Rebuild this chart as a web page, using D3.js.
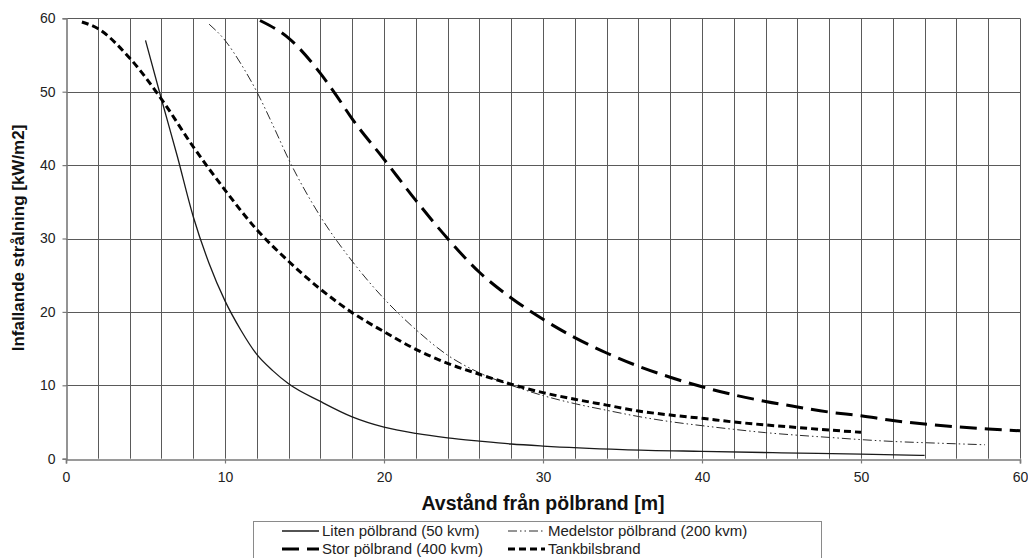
<!DOCTYPE html>
<html><head><meta charset="utf-8">
<script src="https://cdn.jsdelivr.net/npm/d3@7"></script>
<style>
body{margin:0;background:#fff;}
svg{display:block;font-family:"Liberation Sans",Arial,sans-serif;}
</style></head>
<body><svg id="c" width="1028" height="558"></svg>
<script>
// ---- data ----
const litenX = [5,6,7,8,9,10,11,12,13,14,16,18,20,22,24,26,28,30,35,40,45,50,54];
const litenY = [57,49,41.2,33,26.6,21.5,17.5,14.2,12,10.2,7.8,5.7,4.3,3.45,2.85,2.4,2.0,1.72,1.25,1.0,0.8,0.62,0.45];
const medelX = [9,10,11,12,13,14,16,18,20,22,24,26,28,30,32,34,36,38,40,42,44,46,48,50,52,54,56,57.8];
const medelY = [59.2,57,53.8,50,45.5,40.8,33,26.9,21.8,17.6,14.1,11.7,10,8.6,7.5,6.6,5.75,5.05,4.5,4.0,3.55,3.2,2.9,2.6,2.35,2.18,2.03,1.9];
const storX = [12.2,14,16,17,18,20,22,24,26,28,30,32,34,36,38,40,42,44,46,48,50,52,54,56,58,60];
const storY = [59.7,57.3,52.5,49.5,46.3,40.8,35.2,30,25.4,21.9,19,16.5,14.4,12.6,11.1,9.8,8.7,7.8,7.05,6.35,5.85,5.2,4.72,4.35,4.05,3.8];
const tankX = [1,2,4,6,8,10,12,14,16,18,20,22,24,26,28,30,32,34,36,38,40,42,44,46,48,50];
const tankY = [59.5,58.6,54.6,49,42.5,36.6,31.2,26.9,23.1,19.9,17.3,14.9,13.0,11.5,10.15,9.0,8.1,7.3,6.5,5.95,5.5,5.0,4.6,4.25,3.9,3.6];
const xTicks = [0,10,20,30,40,50,60];
const yTicks = [0,10,20,30,40,50,60];
const seriesNames = ["Liten pölbrand (50 kvm)","Medelstor pölbrand (200 kvm)","Stor pölbrand (400 kvm)","Tankbilsbrand"];
const xTitle = "Avstånd från pölbrand [m]";
const yTitle = "Infallande strålning [kW/m2]";

const series = [
  {name:seriesNames[0], xs:litenX, ys:litenY, w:1.3, dash:null, color:"#1a1a1a"},
  {name:seriesNames[1], xs:medelX, ys:medelY, w:1, dash:"9,3,1.5,3,1.5,3", color:"#2a2a2a"},
  {name:seriesNames[2], xs:storX, ys:storY, w:3, dash:"17,8", color:"#000"},
  {name:seriesNames[3], xs:tankX, ys:tankY, w:3, dash:"7,4", color:"#000"}
];

const svg = d3.select("#c");
const x = d3.scaleLinear().domain([0,60]).range([66,1020]);
const y = d3.scaleLinear().domain([0,60]).range([458.7,18.3]);

// grid
const g = svg.append("g");
const vLines = d3.range(2,61,2);
g.selectAll("line.v").data(vLines).enter().append("line")
  .attr("x1",d=>Math.round(x(d))+0.5).attr("x2",d=>Math.round(x(d))+0.5)
  .attr("y1",y(60)).attr("y2",y(0))
  .attr("stroke","#5a5a5a").attr("stroke-width",1);
g.selectAll("line.h").data(yTicks.filter(d=>d>0)).enter().append("line")
  .attr("x1",x(0)).attr("x2",x(60))
  .attr("y1",d=>Math.round(y(d))+0.5).attr("y2",d=>Math.round(y(d))+0.5)
  .attr("stroke","#5a5a5a").attr("stroke-width",1);

// axes
const xAxis = svg.append("g").attr("transform","translate(0,"+(Math.round(y(0))+0.5)+")")
  .call(d3.axisBottom(x).tickValues(xTicks).tickSize(4).tickPadding(9));
const yAxis = svg.append("g").attr("transform","translate("+(Math.round(x(0))+0.5)+",0)")
  .call(d3.axisLeft(y).tickValues(yTicks).tickSize(4).tickPadding(7));
[xAxis,yAxis].forEach(a=>{
  a.select(".domain").attr("stroke","#7a7a7a").attr("stroke-width",1.6);
  a.selectAll(".tick line").attr("stroke","#7a7a7a").attr("stroke-width",1.2);
  a.selectAll(".tick text").attr("font-size",14).attr("fill","#222")
   .attr("font-family","'Liberation Sans',Arial,sans-serif");
});

// lines
const line = d3.line().x(d=>x(d[0])).y(d=>y(d[1])).curve(d3.curveMonotoneX);
series.forEach(s=>{
  const pts = s.xs.map((v,i)=>[v,s.ys[i]]);
  svg.append("path").datum(pts).attr("d",line)
    .attr("fill","none").attr("stroke",s.color).attr("stroke-width",s.w)
    .attr("stroke-dasharray",s.dash).attr("stroke-linejoin","round");
});

// titles
svg.append("text").attr("x",543).attr("y",510).attr("text-anchor","middle")
  .attr("font-size",19.5).attr("font-weight","bold").attr("fill","#111").text(xTitle);
svg.append("text").attr("transform","translate(24,238) rotate(-90)").attr("text-anchor","middle")
  .attr("font-size",17).attr("font-weight","bold").attr("fill","#111").text(yTitle);

// legend
svg.append("rect").attr("x",253.5).attr("y",521.5).attr("width",568).attr("height",50)
  .attr("fill","#fff").attr("stroke","#8a8a8a").attr("stroke-width",1);
const legPos = [[282,531],[508,531],[282,549],[508,549]];
series.forEach((s,i)=>{
  const [lx,ly]=legPos[i];
  svg.append("line").attr("x1",lx).attr("x2",lx+37).attr("y1",ly).attr("y2",ly)
    .attr("stroke",s.color).attr("stroke-width",s.w).attr("stroke-dasharray",s.dash);
  svg.append("text").attr("x",lx+40).attr("y",ly+5).attr("font-size",15).attr("fill","#222").text(s.name);
});
</script></body></html>
